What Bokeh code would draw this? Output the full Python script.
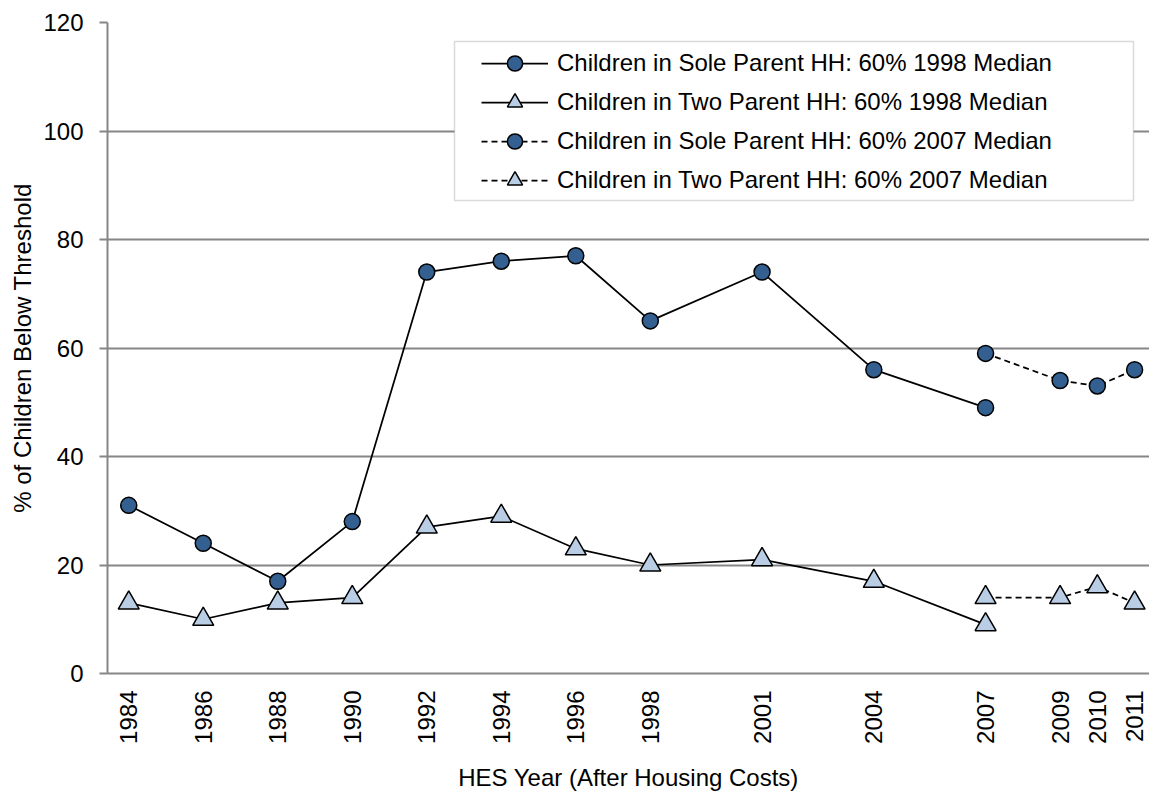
import math
from bokeh.plotting import figure
from bokeh.models import FixedTicker, BoxAnnotation, Range1d, Legend, LegendItem
from bokeh.embed import file_html
from bokeh.resources import INLINE

# ---- data ----
x_ticks = [1984, 1986, 1988, 1990, 1992, 1994, 1996, 1998, 2001, 2004, 2007, 2009, 2010, 2011]
x_labels = ["1984", "1986", "1988", "1990", "1992", "1994", "1996", "1998",
            "2001", "2004", "2007", "2009", "2010", "2011"]
y_ticks = [0, 20, 40, 60, 80, 100, 120]

years_1998 = [1984, 1986, 1988, 1990, 1992, 1994, 1996, 1998, 2001, 2004, 2007]
sole_1998 = [31, 24, 17, 28, 74, 76, 77, 65, 74, 56, 49]
two_1998 = [13, 10, 13, 14, 27, 29, 23, 20, 21, 17, 9]

years_2007 = [2007, 2009, 2010, 2011]
sole_2007 = [59, 54, 53, 56]
two_2007 = [14, 14, 16, 13]

labels = [
    "Children in Sole Parent HH: 60% 1998 Median",
    "Children in Two Parent HH: 60% 1998 Median",
    "Children in Sole Parent HH: 60% 2007 Median",
    "Children in Two Parent HH: 60% 2007 Median",
]

FONT = "Liberation Sans"
FS = "24px"
GRID = "#868686"
DARK = "#335F91"
LIGHT = "#B9CDE5"

p = figure(width=1149, height=793, output_backend="svg", toolbar_location=None,
           x_range=Range1d(1983.43, 2011.4), y_range=Range1d(0, 120),
           min_border_left=107, min_border_right=0, min_border_top=22, min_border_bottom=120)
p.outline_line_color = None
p.background_fill_color = "white"
p.border_fill_color = "white"

# axes
p.xaxis.ticker = FixedTicker(ticks=x_ticks)
p.xaxis.major_label_overrides = {t: l for t, l in zip(x_ticks, x_labels)}
p.xaxis.major_label_orientation = math.pi / 2
p.xaxis.major_tick_out = 0
p.xaxis.major_tick_in = 0
p.xaxis.minor_tick_line_color = None
p.xaxis.axis_line_color = GRID
p.xaxis.axis_line_width = 2
p.xaxis.major_label_standoff = 17
p.xaxis.axis_label = "HES Year (After Housing Costs)"
p.xaxis.axis_label_standoff = 17

p.yaxis.ticker = FixedTicker(ticks=y_ticks)
p.yaxis.major_tick_out = 8
p.yaxis.major_tick_in = 0
p.yaxis.major_tick_line_color = GRID
p.yaxis.major_tick_line_width = 2
p.yaxis.minor_tick_line_color = None
p.yaxis.axis_line_color = GRID
p.yaxis.axis_line_width = 2
p.yaxis.major_label_standoff = 16
p.yaxis.axis_label = "% of Children Below Threshold"
p.yaxis.axis_label_standoff = 4

for ax in (p.xaxis, p.yaxis):
    ax.major_label_text_font = FONT
    ax.major_label_text_font_size = FS
    ax.major_label_text_color = "black"
    ax.axis_label_text_font = FONT
    ax.axis_label_text_font_size = FS
    ax.axis_label_text_font_style = "normal"
    ax.axis_label_text_color = "black"

p.xgrid.grid_line_color = None
p.ygrid.ticker = FixedTicker(ticks=y_ticks)
p.ygrid.grid_line_color = GRID
p.ygrid.grid_line_width = 2

# legend box (drawn behind legend entries)
box = BoxAnnotation(left=347, right=1026, bottom=473, top=632,
                    left_units="screen", right_units="screen",
                    bottom_units="screen", top_units="screen",
                    fill_color="white", fill_alpha=1.0,
                    line_color=GRID, line_width=1.5)
p.add_layout(box)

# series
l1 = p.line(years_1998, sole_1998, line_color="black", line_width=1.75)
l2 = p.line(years_1998, two_1998, line_color="black", line_width=1.75)
l3 = p.line(years_2007, sole_2007, line_color="black", line_width=1.75, line_dash="6 4")
l4 = p.line(years_2007, two_2007, line_color="black", line_width=1.75, line_dash="6 4")

m1 = p.scatter(years_1998, sole_1998, marker="circle", size=16, fill_color=DARK,
               line_color="black", line_width=1.5)
m2 = p.scatter(years_1998, two_1998, marker="triangle", size=21, fill_color=LIGHT,
               line_color="black", line_width=1.5)
m3 = p.scatter(years_2007, sole_2007, marker="circle", size=16, fill_color=DARK,
               line_color="black", line_width=1.5)
m4 = p.scatter(years_2007, two_2007, marker="triangle", size=21, fill_color=LIGHT,
               line_color="black", line_width=1.5)

legend = Legend(items=[
    LegendItem(label=labels[0], renderers=[l1, m1]),
    LegendItem(label=labels[1], renderers=[l2, m2]),
    LegendItem(label=labels[2], renderers=[l3, m3]),
    LegendItem(label=labels[3], renderers=[l4, m4]),
], location=(374, 474))
legend.glyph_width = 67
legend.glyph_height = 38
legend.spacing = 1
legend.padding = 0
legend.margin = 0
legend.label_standoff = 9
legend.label_text_font = FONT
legend.label_text_font_size = FS
legend.label_text_color = "black"
legend.border_line_color = None
legend.background_fill_alpha = 0
p.add_layout(legend)

open("out.html", "w").write(file_html(p, INLINE))
